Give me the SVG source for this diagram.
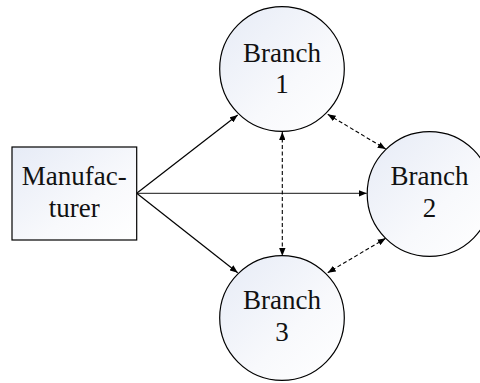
<svg xmlns="http://www.w3.org/2000/svg" width="480" height="383" viewBox="0 0 480 383">
<defs>
<linearGradient id="g" x1="0" y1="0" x2="1" y2="1">
<stop offset="0" stop-color="#e6ebf6"/>
<stop offset="0.6" stop-color="#f8f9fc"/>
<stop offset="1" stop-color="#ffffff"/>
</linearGradient>
<marker id="ah" viewBox="0 0 10 8" refX="10" refY="4" markerWidth="8" markerHeight="6.4" markerUnits="userSpaceOnUse" orient="auto-start-reverse">
<path d="M0,0 L10,4 L0,8 Z" fill="#000"/>
</marker>
</defs>
<style>
.node{fill:url(#g);stroke:#000;stroke-width:1.2}
.lbl{font-family:"Liberation Serif","Times New Roman",serif;font-size:27px;fill:#111;text-anchor:middle}
.solid{stroke:#000;stroke-width:1.2;fill:none}
.dash{stroke:#000;stroke-width:1.1;fill:none;stroke-dasharray:4 2.5}
</style>
<rect width="480" height="383" fill="#fff"/>
<g id="connectors">
<line class="solid" x1="136.7" y1="193.3" x2="237.7" y2="115" marker-end="url(#ah)"/>
<line class="solid" x1="136.7" y1="193.3" x2="366.7" y2="193.3" stroke="#444" marker-end="url(#ah)" style="stroke:#444"/>
<line class="solid" x1="136.7" y1="193.3" x2="237.7" y2="272.7" marker-end="url(#ah)"/>
<line class="dash" x1="282.3" y1="132" x2="282.3" y2="256" marker-start="url(#ah)" marker-end="url(#ah)"/>
<line class="dash" x1="327.7" y1="114.3" x2="385.7" y2="149" marker-start="url(#ah)" marker-end="url(#ah)"/>
<line class="dash" x1="385.7" y1="238.3" x2="327.7" y2="272.7" marker-start="url(#ah)" marker-end="url(#ah)"/>
</g>
<g id="manufacturer">
<rect class="node" x="12" y="147" width="124.7" height="93"/>
<text class="lbl" x="74.3" y="185.3">Manufac-</text>
<text class="lbl" x="74.3" y="217">turer</text>
</g>
<g id="branch1">
<circle class="node" cx="282" cy="69" r="62.3"/>
<text class="lbl" x="282" y="61.7">Branch</text>
<text class="lbl" x="282" y="92.7">1</text>
</g>
<g id="branch2">
<circle class="node" cx="429.5" cy="194" r="62.3"/>
<text class="lbl" x="429.5" y="185.3">Branch</text>
<text class="lbl" x="429.5" y="217">2</text>
</g>
<g id="branch3">
<circle class="node" cx="282" cy="318" r="62.3"/>
<text class="lbl" x="282" y="309.3">Branch</text>
<text class="lbl" x="282" y="340.7">3</text>
</g>
</svg>
